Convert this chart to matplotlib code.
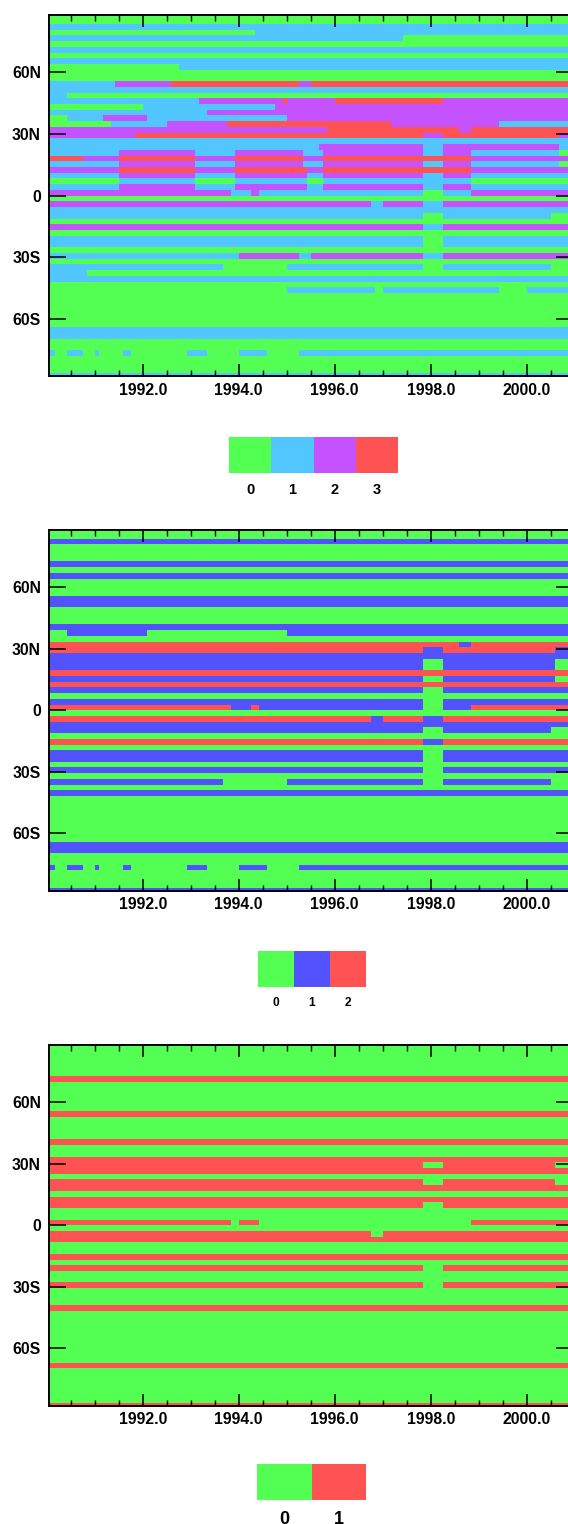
import numpy as np
import matplotlib
matplotlib.use("Agg")
import matplotlib.pyplot as plt
from matplotlib.colors import ListedColormap

plt.rcParams["font.family"] = ["Liberation Sans", "DejaVu Sans"]
plt.rcParams["font.weight"] = "bold"

# ========= grid =========
START_YEAR = 1990
N_MONTHS = 132          # monthly, Jan 1990 .. Dec 2000
N_LAT = 64              # north -> south
LAT_MAX = 87.86

XTICKS = [1992, 1994, 1996, 1998, 2000]
XTICKLABELS = ["1992.0", "1994.0", "1996.0", "1998.0", "2000.0"]
YTICKS = [60, 30, 0, -30, -60]
YTICKLABELS = ["60N", "30N", "0", "30S", "60S"]

GREEN = "#54FF54"
COLORS1 = [GREEN, "#52C6FF", "#C452FF", "#FF5252"]
COLORS2 = [GREEN, "#5252FF", "#FF5252"]
COLORS3 = [GREEN, "#FF5252"]
LABELS1 = ["0", "1", "2", "3"]
LABELS2 = ["0", "1", "2"]
LABELS3 = ["0", "1"]

# ========= data: one string per latitude row (north first) =========
# "v m:v m:v ..." -> first value, then value changes at month index m
BOTTOM = "1 2:0 5:1 9:0 12:1 13:0 19:1 21:0 35:1 40:0 48:1 55:0 63:1"

PANEL1 = [
    "0", "0", "1", "0 52:1", "1 89:0", "0", "1", "0", "1", "0 33:1",
    "0", "0", "1 17:2 31:3 63:2 66:3", "1", "1 5:0",
    "1 38:2 59:3 60:2 72:3 99:2",
    "0 24:1 57:2", "1 40:2", "0 5:1 14:2 25:1 60:2",
    "0 16:1 30:2 45:3 86:2 113:1",
    "2 70:3 103:2 106:3", "2 22:3 94:2 99:3 128:2", "1",
    "1 68:2 94:1 99:2 128:1",
    "1 18:2 37:1 47:2 64:1 69:2 94:1 99:2 106:1 128:0",
    "3 9:2 18:3 37:2 47:3 64:2 69:3 106:2",
    "1 18:2 37:1 47:2 64:1 69:2 94:1 99:2 106:1 128:0",
    "2 18:3 37:2 47:3 65:2 69:3 106:2",
    "1 18:2 37:1 47:2 65:1 69:2 94:1 99:2 106:1",
    "0 18:1 37:0 47:1 65:0 69:1 106:0",
    "1 18:2 37:1 47:2 65:1 69:2 94:1 99:2 106:1",
    "2 46:1 51:2 53:1 94:0 99:1 106:2",
    "0", "2 81:1 84:2 94:1 99:2", "1", "1 94:0 99:1 126:0", "0",
    "2 94:1 99:2", "0", "1 94:0 99:1", "1 94:0 99:1", "0",
    "1 48:2 63:1 66:2 94:1 99:2", "0",
    "1 44:0 60:1 94:0 99:1 126:0", "1 10:0", "1", "0",
    "0 60:1 82:0 84:1 113:0 120:1",
    "0", "0", "0", "0", "0", "0", "1", "1", "0", "0",
    BOTTOM, "0", "0", "0", "1",
]

PANEL2 = [
    "0", "0", "1", "0", "0", "0", "1", "0", "1", "0",
    "0", "0", "1", "1", "0", "0", "0", "1",
    "0 5:1 25:0 60:1", "0",
    "2 103:1 106:2", "2 94:1 99:2 127:1", "1",
    "1 94:0 99:1 127:0", "1 94:0 99:1 127:0", "2",
    "1 94:0 99:1 127:0", "2",
    "1 94:0 99:1", "0", "1 94:0 99:1",
    "2 46:1 51:2 53:1 94:0 99:1 106:2",
    "0", "2 81:1 84:2 94:1 99:2", "1", "1 94:0 99:1 126:0", "0",
    "2 94:1 99:2", "0", "1 94:0 99:1", "1 94:0 99:1", "0",
    "1 94:0 99:1", "0", "1 44:0 60:1 94:0 99:1 126:0", "0", "1",
    "0", "0", "0", "0", "0", "0", "0", "0",
    "1", "1", "0", "0", BOTTOM, "0", "0", "0", "1",
]

PANEL3 = [
    "0", "0", "0", "0", "0", "0", "1", "0", "0", "0",
    "0", "0", "1", "0", "0", "0", "0", "1", "0", "0",
    "1", "1 94:0 99:1 127:0", "1", "0", "1 94:0 99:1 127:0", "1", "0", "1",
    "1 94:0 99:1", "0",
    "0", "1 46:0 48:1 53:0 106:1", "0", "1 81:0 84:1", "1", "0", "0", "1", "0",
    "1 94:0 99:1",
    "0", "0", "1 94:0 99:1", "0", "0", "0", "1", "0", "0", "0",
    "0", "0", "0", "0", "0", "0", "1", "0", "0", "0",
    "0", "0", "0", "1",
]


def build_grid(rows):
    assert len(rows) == N_LAT
    grid = np.zeros((N_LAT, N_MONTHS), dtype=int)
    for r, spec in enumerate(rows):
        parts = spec.split()
        grid[r, :] = int(parts[0])
        for p in parts[1:]:
            m, v = p.split(":")
            grid[r, int(m):] = int(v)
    return grid


dlat = 2 * LAT_MAX / (N_LAT - 1)
lat_edges = np.linspace(LAT_MAX + dlat / 2, -LAT_MAX - dlat / 2, N_LAT + 1)
time_edges = START_YEAR + np.arange(N_MONTHS + 1) / 12.0

fig = plt.figure(figsize=(5.68, 15.24), dpi=100)
H = 1524.0
W = 568.0


def px_axes(x0, y0, x1, y1):
    return fig.add_axes([x0 / W, 1 - y1 / H, (x1 - x0) / W, (y1 - y0) / H])


def draw_panel(rows, colors, top, bottom):
    ax = px_axes(48.7, top, 572.7, bottom)
    n = len(colors)
    ax.pcolormesh(time_edges, lat_edges, build_grid(rows), cmap=ListedColormap(colors),
                  vmin=-0.5, vmax=n - 0.5, shading="flat", antialiased=False,
                  edgecolors="none", linewidth=0)
    ax.set_xlim(START_YEAR + 0.5 / 12, START_YEAR + (N_MONTHS - 0.5) / 12)
    ax.set_ylim(-LAT_MAX, LAT_MAX)
    ax.set_xticks(XTICKS)
    ax.set_xticklabels(XTICKLABELS)
    ax.set_xticks(np.arange(1990.5, 2001, 0.5), minor=True)
    ax.set_yticks(YTICKS)
    ax.set_yticklabels(YTICKLABELS)
    ax.tick_params(axis="x", which="major", direction="in", length=8.6, width=1.1,
                   top=True, labelsize=11.3, pad=5)
    ax.tick_params(axis="x", which="minor", direction="in", length=4.3, width=1.0, top=True)
    ax.tick_params(axis="y", which="major", direction="in", length=12, width=1.1,
                   right=True, labelsize=11.3, pad=5.5)
    for s in ax.spines.values():
        s.set_linewidth(1.4)
    return ax


def draw_cbar(colors, labels, x0, x1, y0, y1, size, pad):
    cax = px_axes(x0, y0, x1, y1)
    n = len(colors)
    cax.pcolormesh(np.arange(n + 1), [0, 1], np.arange(n)[None, :],
                   cmap=ListedColormap(colors), vmin=-0.5, vmax=n - 0.5,
                   shading="flat", antialiased=False, edgecolors="none")
    cax.set_xlim(0, n)
    cax.set_ylim(0, 1)
    cax.set_xticks(np.arange(n) + 0.5)
    cax.set_xticklabels(labels)
    cax.set_yticks([])
    cax.tick_params(axis="x", length=0, labelsize=size, pad=pad)
    for s in cax.spines.values():
        s.set_visible(False)


draw_panel(PANEL1, COLORS1, 15.3, 376.0)
draw_panel(PANEL2, COLORS2, 530.0, 890.5)
draw_panel(PANEL3, COLORS3, 1045.0, 1405.5)

draw_cbar(COLORS1, LABELS1, 229, 398, 437, 473, 10.5, 7)
draw_cbar(COLORS2, LABELS2, 257.7, 366, 951, 987, 8.6, 7)
draw_cbar(COLORS3, LABELS3, 257, 366, 1464, 1500, 13, 8)

fig.savefig("out.png", dpi=100)
